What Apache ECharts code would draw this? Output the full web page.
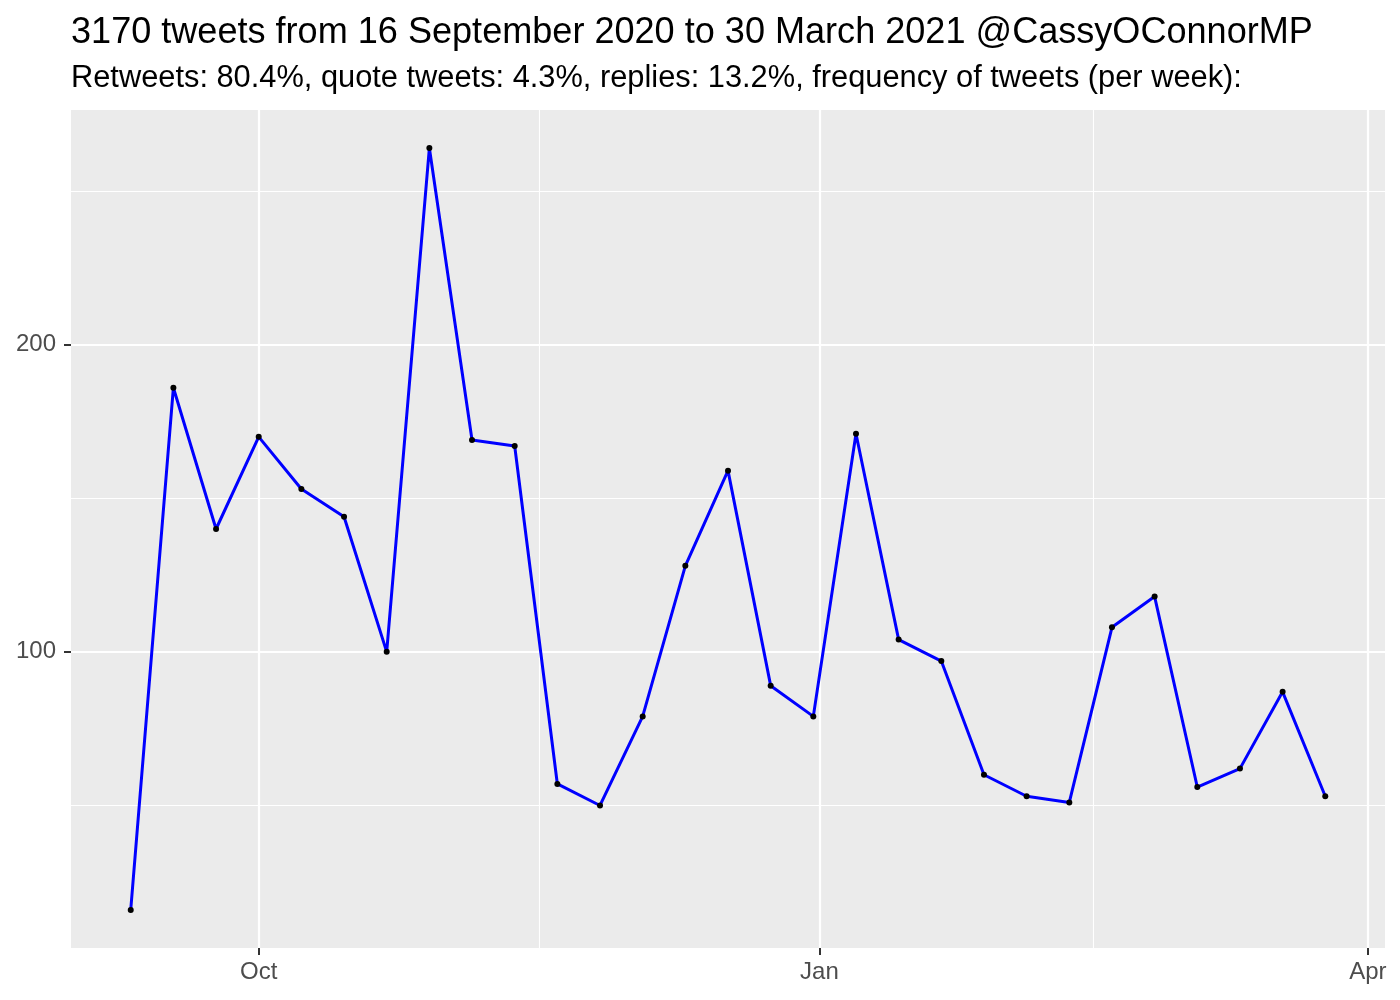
<!DOCTYPE html>
<html><head><meta charset="utf-8">
<script src="https://cdn.jsdelivr.net/npm/echarts@6/dist/echarts.min.js"></script>
<style>html,body{margin:0;padding:0;background:#fff}#c{width:1400px;height:1000px}</style>
</head><body><div id="c"></div>
<script>
const weekStarts = ['2020-09-10','2020-09-17','2020-09-24','2020-10-01','2020-10-08','2020-10-15','2020-10-22','2020-10-29',
  '2020-11-05','2020-11-12','2020-11-19','2020-11-26','2020-12-03','2020-12-10','2020-12-17','2020-12-24','2020-12-31',
  '2021-01-07','2021-01-14','2021-01-21','2021-01-28','2021-02-04','2021-02-11','2021-02-18','2021-02-25',
  '2021-03-04','2021-03-11','2021-03-18','2021-03-25'];
const tweetsPerWeek = [16,186,140,170,153,144,100,264,169,167,57,50,79,128,159,89,79,171,104,97,60,53,51,108,118,56,62,87,53];
const xTickDates = ['2020-10-01','2021-01-01','2021-04-01'];
const xTickLabels = ['Oct','Jan','Apr'];
const xMinorDates = ['2020-11-16','2021-02-15'];
const yTicks = [100,200];
const yMinor = [50,150,250];
const titleText = '3170 tweets from 16 September 2020 to 30 March 2021 @CassyOConnorMP';
const subtitleText = 'Retweets: 80.4%, quote tweets: 4.3%, replies: 13.2%, frequency of tweets (per week):';

const FONT = '"Liberation Sans", Arial, Helvetica, sans-serif';
const xs = weekStarts.map(d => Date.parse(d));
const data = xs.map((x, i) => [x, tweetsPerWeek[i]]);
const xMinD = Math.min(...xs), xMaxD = Math.max(...xs);
const xPad = 0.05 * (xMaxD - xMinD);
const yMinD = Math.min(...tweetsPerWeek), yMaxD = Math.max(...tweetsPerWeek);
const yPad = 0.05 * (yMaxD - yMinD);
const xTickMs = xTickDates.map(d => Date.parse(d));
const xMinorMs = xMinorDates.map(d => Date.parse(d));

const gridLines = [];
xTickMs.forEach(v => gridLines.push({xAxis: v, lineStyle: {color: '#FFFFFF', width: 2.2, type: 'solid'}}));
xMinorMs.forEach(v => gridLines.push({xAxis: v, lineStyle: {color: '#FFFFFF', width: 1.1, type: 'solid'}}));
yTicks.forEach(v => gridLines.push({yAxis: v, lineStyle: {color: '#FFFFFF', width: 2.2, type: 'solid'}}));
yMinor.forEach(v => gridLines.push({yAxis: v, lineStyle: {color: '#FFFFFF', width: 1.1, type: 'solid'}}));

const chart = echarts.init(document.getElementById('c'), null, {renderer: 'canvas'});
chart.setOption({
  animation: false,
  backgroundColor: '#FFFFFF',
  title: [
    {text: titleText, left: 71, top: 15, padding: 0,
     textStyle: {fontFamily: FONT, fontSize: 36.1, fontWeight: 'normal', color: '#000000', lineHeight: 36}},
    {text: subtitleText, left: 71, top: 63, padding: 0,
     textStyle: {fontFamily: FONT, fontSize: 30.8, fontWeight: 'normal', color: '#000000', lineHeight: 31}}
  ],
  grid: {left: 71, right: 15, top: 110, bottom: 52, show: true, backgroundColor: '#EBEBEB', borderWidth: 0,
         containLabel: false, outerBoundsMode: 'none'},
  xAxis: {
    type: 'value', min: xMinD - xPad, max: xMaxD + xPad,
    axisLine: {show: false},
    axisTick: {show: true, customValues: xTickMs, length: 7, lineStyle: {color: '#333333', width: 2}},
    axisLabel: {show: true, customValues: xTickMs, margin: 12, color: '#4D4D4D', fontSize: 24, fontFamily: FONT,
      formatter: v => {
        let best = 0, bd = Infinity;
        xTickMs.forEach((t, i) => { const d = Math.abs(t - v); if (d < bd) { bd = d; best = i; } });
        return xTickLabels[best];
      }},
    splitLine: {show: false}, minorSplitLine: {show: false}
  },
  yAxis: {
    type: 'value', min: yMinD - yPad, max: yMaxD + yPad,
    axisLine: {show: false},
    axisTick: {show: true, customValues: yTicks, length: 7, lineStyle: {color: '#333333', width: 2}},
    axisLabel: {show: true, customValues: yTicks, margin: 15, color: '#4D4D4D', fontSize: 24, fontFamily: FONT,
      formatter: v => String(Math.round(v))},
    splitLine: {show: false}, minorSplitLine: {show: false}
  },
  series: [
    {type: 'line', data: data, z: 1, silent: true, showSymbol: false, symbol: 'none',
     lineStyle: {opacity: 0}, tooltip: {show: false},
     markLine: {z: 1, silent: true, symbol: ['none', 'none'], label: {show: false}, animation: false, data: gridLines}},
    {type: 'line', data: data, z: 10, symbol: 'circle', symbolSize: 6, showAllSymbol: true,
     lineStyle: {color: '#0000FF', width: 3}, itemStyle: {color: '#000000', borderWidth: 0},
     emphasis: {disabled: true}}
  ]
});
</script></body></html>
